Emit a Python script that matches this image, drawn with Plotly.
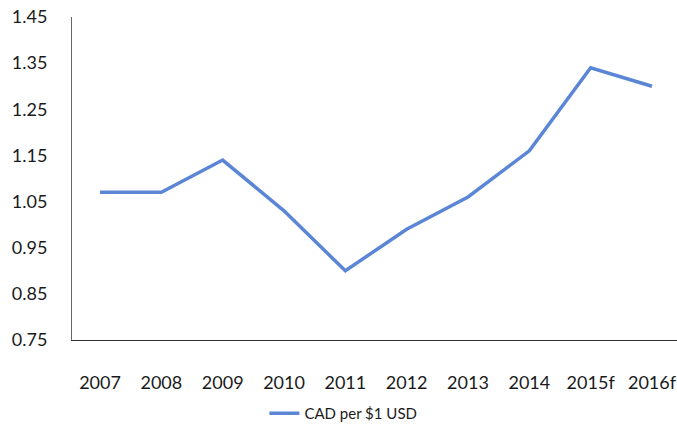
import plotly.graph_objects as go

# Exchange rate, Canadian dollars per one US dollar (f = forecast)
years = ["2007", "2008", "2009", "2010", "2011", "2012", "2013", "2014", "2015f", "2016f"]
cad_per_usd = [1.07, 1.07, 1.14, 1.03, 0.90, 0.99, 1.06, 1.16, 1.34, 1.30]
y_ticks = [0.75, 0.85, 0.95, 1.05, 1.15, 1.25, 1.35, 1.45]

FONT = "Lato"
LINE_BLUE = "#5B86D5"

fig = go.Figure()
fig.add_trace(go.Scatter(
    x=list(range(len(years))),
    y=cad_per_usd,
    mode="lines",
    name="CAD per $1 USD",
    line=dict(color=LINE_BLUE, width=3.5),
))

fig.update_layout(
    width=677,
    height=430,
    margin=dict(l=72, r=0, t=17, b=89),
    paper_bgcolor="white",
    plot_bgcolor="white",
    font=dict(family=FONT, size=18, color="#1a1a1a"),
    showlegend=True,
    legend=dict(
        orientation="h",
        x=0.318, xanchor="left",
        y=-0.228, yanchor="middle",
        font=dict(family=FONT, size=15, color="#1a1a1a"),
        bgcolor="rgba(0,0,0,0)",
    ),
    xaxis=dict(
        tickmode="array",
        tickvals=list(range(len(years))),
        ticktext=years,
        range=[-0.457, 9.408],
        showgrid=False,
        zeroline=False,
        showline=True,
        linecolor="#333",
        linewidth=1,
        ticks="",
        ticklabelstandoff=26,
        automargin=False,
        tickfont=dict(family=FONT, size=18, color="#1a1a1a"),
    ),
    yaxis=dict(
        tickmode="array",
        tickvals=y_ticks,
        ticktext=[f"{v:.2f}" for v in y_ticks],
        range=[0.75, 1.45],
        showgrid=False,
        zeroline=False,
        showline=True,
        linecolor="#666",
        linewidth=1,
        ticks="",
        ticklabelstandoff=20,
        automargin=False,
        tickfont=dict(family=FONT, size=18, color="#1a1a1a"),
    ),
)

fig.write_html("out.html")
